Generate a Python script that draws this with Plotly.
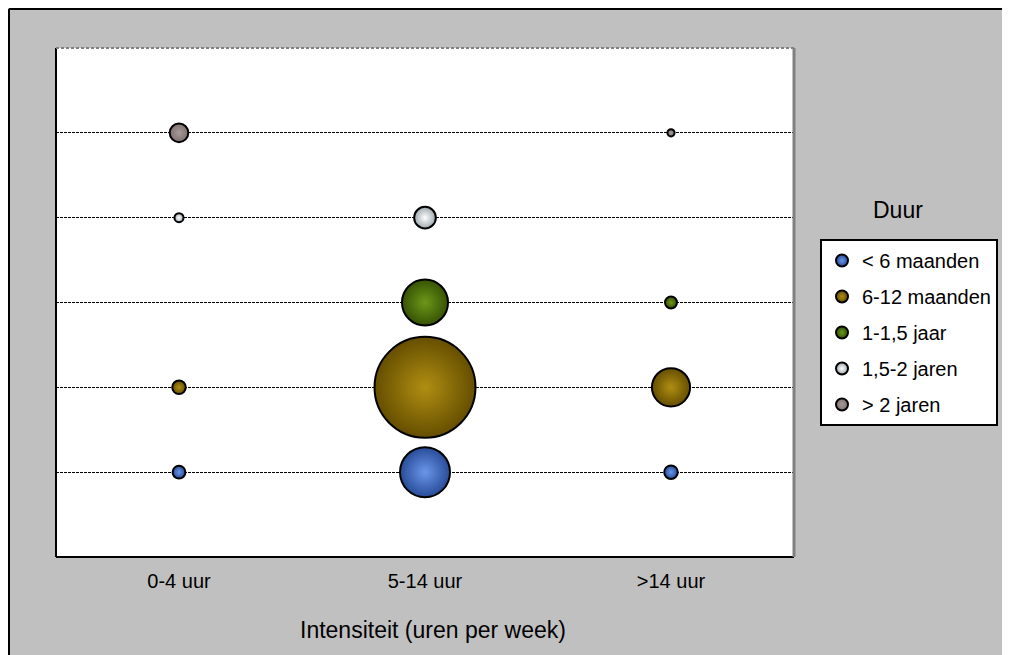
import plotly.graph_objects as go

# ---- data ----
intensity = ["0-4 uur", "5-14 uur", ">14 uur"]
durations = ["< 6 maanden", "6-12 maanden", "1-1,5 jaar", "1,5-2 jaren", "> 2 jaren"]
# bubble values (area-proportional), per duration, for each intensity; 0 = no bubble
v_lt6 = [1.6, 24.5, 1.8]
v_6_12 = [1.8, 100.0, 14.3]
v_1_15 = [0.0, 20.8, 1.4]
v_15_2 = [0.8, 4.6, 0.0]
v_gt2 = [3.4, 0.0, 0.5]
series_values = [v_lt6, v_6_12, v_1_15, v_15_2, v_gt2]

edge_colors = ["#284c98", "#654e00", "#365204", "#9ea8ae", "#807070"]
center_colors = ["#6a96ea", "#b08e12", "#6c9818", "#ffffff", "#a89a9a"]

W, H = 1002, 647
OFF = 8  # page offset of the figure
FONT = "Liberation Sans, Arial, sans-serif"


def px(x):
    return (x - OFF) / W


def py(y):
    return 1 - (y - OFF) / H


# plot-area geometry in page pixels
PL, PR, PT, PB = 56, 794, 48, 557
xL, xR = px(PL), px(PR)
yB, yT = py(PB), py(PT)

fig = go.Figure()
sref = 2 * 100.0 / (101.0 ** 2)
for i, (name, vals) in enumerate(zip(durations, series_values)):
    xs = [c for c, v in zip(intensity, vals) if v > 0]
    ss = [v for v in vals if v > 0]
    fig.add_trace(go.Scatter(
        x=[intensity.index(c) + 1 for c in xs],
        y=[i + 1] * len(xs),
        mode="markers",
        name=name,
        legendgroup=name,
        marker=dict(size=ss, sizemode="area", sizeref=sref,
                    color=edge_colors[i], opacity=1,
                    gradient=dict(type="radial", color=center_colors[i]),
                    line=dict(color="black", width=2)),
        hovertemplate=name + ": %{marker.size}<extra></extra>",
    ))

fig.update_layout(
    width=W, height=H,
    margin=dict(l=0, r=0, t=0, b=0),
    paper_bgcolor="#c0c0c0",
    plot_bgcolor="white",
    font=dict(family=FONT, color="black", size=19),
    showlegend=True,
    legend=dict(
        x=px(820), y=py(239), xanchor="left", yanchor="top",
        bgcolor="white", bordercolor="black", borderwidth=2,
        font=dict(size=20, family=FONT, color="black"),
        traceorder="grouped", tracegroupgap=7, itemsizing="constant",
    ),
    xaxis=dict(
        domain=[xL, xR], range=[0.5, 3.5],
        tickvals=[1, 2, 3], ticktext=intensity,
        showgrid=False, zeroline=False, showline=False, ticks="",
        ticklabelstandoff=10, automargin=False,
        tickfont=dict(size=20, family=FONT, color="black"),
    ),
    yaxis=dict(
        domain=[yB, yT], range=[0, 6],
        tickvals=[1, 2, 3, 4, 5], ticktext=durations,
        showticklabels=False, showgrid=True, gridcolor="black",
        gridwidth=1, griddash="3px,1px", zeroline=False, showline=False,
        ticks="", automargin=False,
    ),
    annotations=[
        dict(text="Intensiteit (uren per week)", x=px(433), y=py(630),
             xref="paper", yref="paper", showarrow=False,
             xanchor="center", yanchor="middle",
             font=dict(size=23, family=FONT, color="black")),
        dict(text="Duur", x=px(898), y=py(210),
             xref="paper", yref="paper", showarrow=False,
             xanchor="center", yanchor="middle",
             font=dict(size=23, family=FONT, color="black")),
    ],
    shapes=[
        # plot area borders
        dict(type="line", xref="paper", yref="paper", x0=xL, x1=xL, y0=yB, y1=yT,
             line=dict(color="black", width=2)),
        dict(type="line", xref="paper", yref="paper", x0=xL, x1=xR, y0=yB, y1=yB,
             line=dict(color="black", width=2)),
        dict(type="line", xref="paper", yref="paper", x0=xL, x1=xR, y0=yT, y1=yT,
             line=dict(color="#808080", width=2, dash="3px,2px")),
        dict(type="line", xref="paper", yref="paper", x0=xR, x1=xR, y0=yB, y1=yT,
             line=dict(color="#808080", width=3)),
        # outer chart border (left and top edges)
        dict(type="line", xref="paper", yref="paper", x0=1 / W, x1=1 / W,
             y0=-0.01, y1=1 - 1 / H, line=dict(color="black", width=2)),
        dict(type="line", xref="paper", yref="paper", x0=1 / W, x1=1.01,
             y0=1 - 1 / H, y1=1 - 1 / H, line=dict(color="black", width=2)),
    ],
)

fig.write_html("out.html")
